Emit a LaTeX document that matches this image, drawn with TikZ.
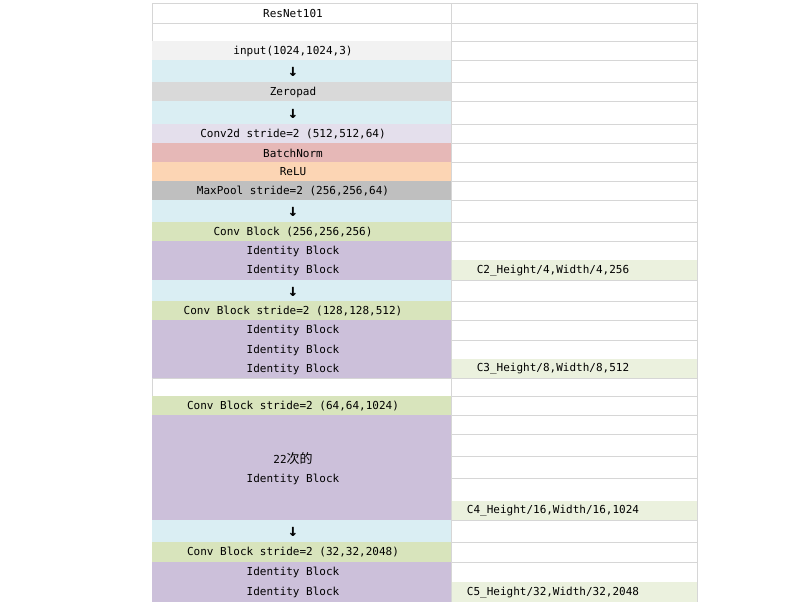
\documentclass[tikz,border=0pt]{standalone}
\usepackage{fontspec}
\setmainfont{DejaVu Sans Mono}
\newfontfamily\cjk{Noto Sans CJK SC}
\definecolor{hdgray}{HTML}{F2F2F2}
\definecolor{arrowblue}{HTML}{DAEEF3}
\definecolor{padgray}{HTML}{D9D9D9}
\definecolor{convlav}{HTML}{E4DFEC}
\definecolor{bnred}{HTML}{E6B8B7}
\definecolor{reluorange}{HTML}{FCD5B4}
\definecolor{poolgray}{HTML}{BFBFBF}
\definecolor{blockgreen}{HTML}{D8E4BC}
\definecolor{idpurple}{HTML}{CCC0DA}
\definecolor{outgreen}{HTML}{EBF1DE}
\definecolor{gridline}{HTML}{D6D6D6}
\begin{document}
\begin{tikzpicture}[
  x=1pt, y=-1pt,
  lab/.style={inner sep=0pt, font=\fontsize{11}{19}\selectfont, align=center},
  arr/.style={inner sep=0pt, font=\fontsize{17}{17}\selectfont\bfseries},
  feat/.style={inner sep=0pt, font=\fontsize{11}{19}\selectfont}]
\useasboundingbox (0,0) rectangle (804,613);
\foreach \yy in {3,23,41,378,396}
  \draw[gridline] (152,\yy) -- (451,\yy);
\foreach \yy in {3,23,41,60,82,101,124,143,162,181,200,222,241,260,280,301,320,340,359,378,396,415,434,456,478,501,520,542,562,582}
  \draw[gridline] (451,\yy) -- (697,\yy);
\foreach \xx in {152,451,697}
  \draw[gridline] (\xx,3) -- (\xx,602);
\foreach \ya/\yb/\fillc in {41/60/hdgray, 60/82/arrowblue, 82/101/padgray,
    101/124/arrowblue, 124/143/convlav, 143/162/bnred, 162/181/reluorange,
    181/200/poolgray, 200/222/arrowblue, 222/241/blockgreen, 241/280/idpurple,
    280/301/arrowblue, 301/320/blockgreen, 320/378/idpurple, 396/415/blockgreen,
    415/520/idpurple, 520/542/arrowblue, 542/562/blockgreen, 562/602/idpurple}
  \fill[\fillc] (152,\ya) rectangle (451,\yb);
\foreach \ya/\yb in {260/280, 359/378, 501/520, 582/602}
  \fill[outgreen] (452,\ya) rectangle (697,\yb);
\node[lab] (title) at (293,13.5) {ResNet101};
\node[lab] (input) at (293,51) {input(1024,1024,3)};
\node[arr] (a1) at (293,72) {↓};
\node[lab] (pad) at (293,92) {Zeropad};
\node[arr] (a2) at (293,113.5) {↓};
\node[lab] (conv1) at (293,134) {Conv2d stride=2 (512,512,64)};
\node[lab] (bn) at (293,153) {BatchNorm};
\node[lab] (relu) at (293,172) {ReLU};
\node[lab] (pool) at (293,191) {MaxPool stride=2 (256,256,64)};
\node[arr] (a3) at (293,212) {↓};
\node[lab] (c2conv) at (293,232) {Conv Block (256,256,256)};
\node[lab] (c2id1) at (293,251) {Identity Block};
\node[lab] (c2id2) at (293,270.5) {Identity Block};
\node[feat] (c2) at (553,270.5) {C2\_Height/4,Width/4,256};
\node[arr] (a4) at (293,291.5) {↓};
\node[lab] (c3conv) at (293,311) {Conv Block stride=2 (128,128,512)};
\node[lab] (c3id1) at (293,330.5) {Identity Block};
\node[lab] (c3id2) at (293,350) {Identity Block};
\node[lab] (c3id3) at (293,369) {Identity Block};
\node[feat] (c3) at (553,369) {C3\_Height/8,Width/8,512};
\node[lab] (c4conv) at (293,406) {Conv Block stride=2 (64,64,1024)};
\node[lab] (c4id) at (293,468.5) {22{\cjk\fontsize{13}{19}\selectfont 次的}\\Identity Block};
\node[feat] (c4) at (553,511) {C4\_Height/16,Width/16,1024};
\node[arr] (a5) at (293,532) {↓};
\node[lab] (c5conv) at (293,552.5) {Conv Block stride=2 (32,32,2048)};
\node[lab] (c5id1) at (293,572.5) {Identity Block};
\node[lab] (c5id2) at (293,592.5) {Identity Block};
\node[feat] (c5) at (553,592.5) {C5\_Height/32,Width/32,2048};
\end{tikzpicture}
\end{document}
